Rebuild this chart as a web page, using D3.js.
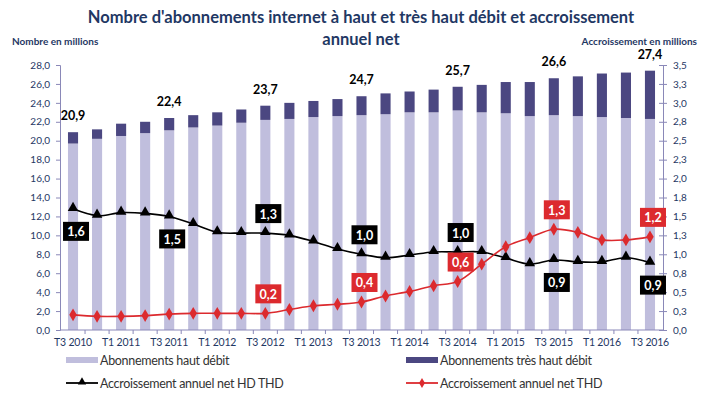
<!DOCTYPE html>
<html>
<head>
<meta charset="utf-8">
<script src="https://cdn.jsdelivr.net/npm/d3@7"></script>
<style>
  body { margin: 0; background: #fff; }
  svg { font-family: Lato, "Open Sans", sans-serif; }
</style>
</head>
<body>
<svg id="chart"></svg>
<script>
// Quarters shown on the x axis
const quarters = [
  "T3 2010", "T4 2010", "T1 2011", "T2 2011", "T3 2011", "T4 2011", "T1 2012", "T2 2012",
  "T3 2012", "T4 2012", "T1 2013", "T2 2013", "T3 2013", "T4 2013", "T1 2014", "T2 2014",
  "T3 2014", "T4 2014", "T1 2015", "T2 2015", "T3 2015", "T4 2015", "T1 2016", "T2 2016",
  "T3 2016"
];

// Subscriptions, millions
const hautDebit = [
  19.7, 20.2, 20.5, 20.8, 21.1, 21.4, 21.6, 21.9, 22.2, 22.3, 22.5, 22.6, 22.7,
  22.8, 23.0, 23.0, 23.2, 23.0, 22.9, 22.6, 22.7, 22.6, 22.5, 22.4, 22.3
];
const tresHautDebit = [
  1.2, 1.0, 1.3, 1.2, 1.3, 1.3, 1.4, 1.4, 1.5, 1.7, 1.7, 1.8, 2.0,
  2.2, 2.2, 2.4, 2.5, 2.9, 3.3, 3.6, 3.9, 4.2, 4.6, 4.8, 5.1
];

// Annual net growth, millions
const accroissementHdThd = [
  1.60, 1.51, 1.55, 1.54, 1.50, 1.40, 1.29, 1.28, 1.28, 1.25, 1.17, 1.07, 1.00,
  0.955, 0.99, 1.03, 1.03, 1.03, 0.95, 0.87, 0.925, 0.90, 0.90, 0.955, 0.89
];
const accroissementThd = [
  0.20, 0.18, 0.18, 0.19, 0.21, 0.22, 0.22, 0.22, 0.22, 0.27, 0.32, 0.34, 0.37,
  0.45, 0.51, 0.585, 0.64, 0.87, 1.10, 1.22, 1.33, 1.29, 1.19, 1.19, 1.23
];

// side of the point where the value box of each T3 quarter sits: -1 above, 1 below, 0 none
const hdThdLabelSide = [1, 1, -1, -1, -1, 1, 1];
const thdLabelSide = [0, 0, -1, -1, -1, -1, -1];

const leftTicks = d3.range(0, 28.01, 2);
const rightTicks = d3.range(0, 3.51, 0.25);

const width = 704, height = 397;
const margin = { top: 65, right: 42, bottom: 67, left: 61 };

const svg = d3.select('#chart').attr('width', width).attr('height', height);

const fr = d3.formatLocale({ decimal: ',', thousands: ' ', grouping: [3], currency: ['', '€'] });
const fmt = fr.format('.1f');

const x = d3.scaleBand()
  .domain(quarters)
  .range([margin.left, width - margin.right])
  .paddingInner(0.58)
  .paddingOuter(0.29);

const yLeft = d3.scaleLinear().domain([0, 28]).range([height - margin.bottom, margin.top]);
const yRight = d3.scaleLinear().domain([0, 3.5]).range([height - margin.bottom, margin.top]);

const navy = '#1f3864';
const axisColor = '#8a88b8';
const lightBar = '#c0bedd';
const darkBar = '#4b4781';
const red = '#dc2a2e';

// title
const title = svg.append('text')
  .attr('x', 361).attr('y', 23)
  .attr('text-anchor', 'middle')
  .attr('fill', navy)
  .style('font-size', '16.5px')
  .style('font-weight', 'bold');
title.append('tspan').attr('x', 361).text("Nombre d'abonnements internet à haut et très haut débit et accroissement");
title.append('tspan').attr('x', 361).attr('dy', 22).text('annuel net');

svg.append('text')
  .attr('x', 12).attr('y', 45)
  .attr('fill', navy)
  .style('font-size', '10px').style('font-weight', 'bold')
  .text('Nombre en millions');

svg.append('text')
  .attr('x', 697).attr('y', 45)
  .attr('text-anchor', 'end')
  .attr('fill', navy)
  .style('font-size', '10px').style('font-weight', 'bold')
  .text('Accroissement en millions');

// stacked bars
const rows = quarters.map((q, i) => ({ q, hd: hautDebit[i], thd: tresHautDebit[i], i }));

svg.append('g').selectAll('rect')
  .data(rows)
  .join('rect')
  .attr('x', d => x(d.q))
  .attr('width', x.bandwidth())
  .attr('y', d => yLeft(d.hd))
  .attr('height', d => yLeft(0) - yLeft(d.hd))
  .attr('fill', lightBar);

svg.append('g').selectAll('rect')
  .data(rows)
  .join('rect')
  .attr('x', d => x(d.q))
  .attr('width', x.bandwidth())
  .attr('y', d => yLeft(d.hd + d.thd))
  .attr('height', d => yLeft(d.hd) - yLeft(d.hd + d.thd))
  .attr('fill', darkBar);

// totals above every T3 bar
const t3 = rows.filter(d => d.i % 4 === 0);
svg.append('g').selectAll('text')
  .data(t3)
  .join('text')
  .attr('x', d => x(d.q) + x.bandwidth() / 2)
  .attr('y', d => yLeft(d.hd + d.thd) - 12)
  .attr('text-anchor', 'middle')
  .attr('fill', '#000')
  .style('font-size', '12.5px')
  .style('font-weight', 'bold')
  .text(d => fmt(d.hd + d.thd));

// axes
const gLeft = svg.append('g')
  .attr('transform', `translate(${margin.left - 1},0)`)
  .call(d3.axisLeft(yLeft).tickValues(leftTicks).tickFormat(fmt).tickSize(4).tickPadding(6));

const gRight = svg.append('g')
  .attr('transform', `translate(${width - margin.right + 1},0)`)
  .call(d3.axisRight(yRight).tickValues(rightTicks).tickFormat(fmt).tickSize(4).tickPadding(6));
gRight.selectAll('.tick line').attr('x1', -4);

const boundaries = quarters.map(q => x(q) - x.step() * x.paddingInner() / 2).slice(1);
const gBottom = svg.append('g')
  .attr('transform', `translate(0,${height - margin.bottom})`);
gBottom.append('line')
  .attr('x1', margin.left - 1).attr('x2', width - margin.right + 1)
  .attr('stroke', axisColor);
gBottom.selectAll('.btick')
  .data(boundaries)
  .join('line')
  .attr('class', 'btick')
  .attr('x1', d => d).attr('x2', d => d)
  .attr('y1', 0).attr('y2', 4)
  .attr('stroke', axisColor);
gBottom.selectAll('.blabel')
  .data(quarters.filter((q, i) => i % 2 === 0))
  .join('text')
  .attr('class', 'blabel')
  .attr('x', d => x(d) + x.bandwidth() / 2)
  .attr('y', 16)
  .attr('text-anchor', 'middle')
  .attr('fill', navy)
  .style('font-size', '10.5px')
  .style('letter-spacing', '-0.2px')
  .text(d => d);

[gLeft, gRight].forEach(g => {
  g.select('.domain').attr('stroke', axisColor);
  g.selectAll('.tick line').attr('stroke', axisColor);
  g.selectAll('.tick text').attr('fill', navy).style('font-size', '10px').style('font-family', 'Lato, sans-serif');
});

// growth lines on the right scale
const line = d3.line()
  .x((d, i) => x(quarters[i]) + x.bandwidth() / 2)
  .y(d => yRight(d))
  .curve(d3.curveCatmullRom.alpha(0.5));

svg.append('path')
  .datum(accroissementHdThd)
  .attr('d', line)
  .attr('fill', 'none')
  .attr('stroke', '#000')
  .attr('stroke-width', 1.6);

svg.append('path')
  .datum(accroissementThd)
  .attr('d', line)
  .attr('fill', 'none')
  .attr('stroke', red)
  .attr('stroke-width', 1.6);

const triangle = d3.symbol().type(d3.symbolTriangle).size(48);
const diamond = d3.symbol().type(d3.symbolDiamond).size(48);

svg.append('g').selectAll('path')
  .data(accroissementHdThd)
  .join('path')
  .attr('d', triangle)
  .attr('transform', (d, i) => `translate(${x(quarters[i]) + x.bandwidth() / 2},${yRight(d) - 1})`)
  .attr('fill', '#000');

svg.append('g').selectAll('path')
  .data(accroissementThd)
  .join('path')
  .attr('d', diamond)
  .attr('transform', (d, i) => `translate(${x(quarters[i]) + x.bandwidth() / 2},${yRight(d)})`)
  .attr('fill', red);

// value boxes
function valueBoxes(values, sides, fill) {
  const pts = values.map((v, i) => ({ v, i }))
    .filter(d => d.i % 4 === 0)
    .map((d, k) => ({ ...d, side: sides[k] }))
    .filter(d => d.side !== 0);
  const g = svg.append('g').selectAll('g')
    .data(pts)
    .join('g')
    .attr('transform', d => {
      const cx = x(quarters[d.i]) + x.bandwidth() / 2 + 3;
      const cy = yRight(d.v) + d.side * (d.side > 0 ? 23 : 19);
      return `translate(${cx},${cy})`;
    });
  g.append('rect')
    .attr('x', -13).attr('y', -10)
    .attr('width', 26).attr('height', 19)
    .attr('fill', fill);
  g.append('text')
    .attr('text-anchor', 'middle')
    .attr('y', 4.5)
    .attr('fill', '#fff')
    .style('font-size', '12.5px')
    .style('font-weight', 'bold')
    .text(d => fmt(d.v));
}
valueBoxes(accroissementHdThd, hdThdLabelSide, '#000');
valueBoxes(accroissementThd, thdLabelSide, red);

// legend
const legend = [
  { label: 'Abonnements haut débit', kind: 'rect', color: lightBar, x: 66, y: 360 },
  { label: 'Abonnements très haut débit', kind: 'rect', color: darkBar, x: 406, y: 360 },
  { label: 'Accroissement annuel net HD THD', kind: 'tri', color: '#000', x: 66, y: 383 },
  { label: 'Accroissement annuel net THD', kind: 'dia', color: red, x: 406, y: 383 }
];
const lg = svg.append('g').selectAll('g')
  .data(legend)
  .join('g')
  .attr('transform', d => `translate(${d.x},${d.y})`);
lg.filter(d => d.kind === 'rect').append('rect')
  .attr('x', 0).attr('y', -3).attr('width', 32).attr('height', 6)
  .attr('fill', d => d.color);
lg.filter(d => d.kind !== 'rect').append('line')
  .attr('x1', 0).attr('x2', 32)
  .attr('stroke', d => d.color).attr('stroke-width', 1.8);
lg.filter(d => d.kind === 'tri').append('path')
  .attr('d', d3.symbol().type(d3.symbolTriangle).size(30))
  .attr('transform', 'translate(16,-1)');
lg.filter(d => d.kind === 'dia').append('path')
  .attr('d', d3.symbol().type(d3.symbolDiamond).size(30))
  .attr('transform', 'translate(16,0)')
  .attr('fill', red);
lg.append('text')
  .attr('x', 34).attr('y', 4.5)
  .attr('fill', '#333')
  .style('font-size', '12.5px')
  .style('letter-spacing', '-0.3px')
  .text(d => d.label);
</script>
</body>
</html>
